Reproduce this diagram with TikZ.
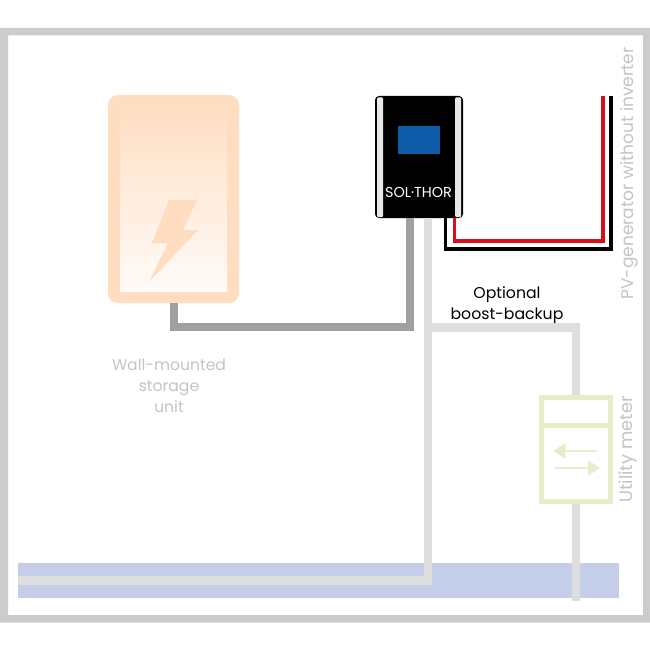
\documentclass[tikz,border=0pt]{standalone}
\usepackage{fontspec}
\setmainfont{Poppins}
\usetikzlibrary{arrows.meta}
\definecolor{framegray}{HTML}{CCCCCC}
\definecolor{bandblue}{HTML}{C5CEE8}
\definecolor{lightwire}{HTML}{DEDEDE}
\definecolor{darkwire}{HTML}{A0A0A0}
\definecolor{peach}{HTML}{FFDDC0}
\definecolor{peachmid}{HTML}{FFEEDF}
\definecolor{peachlow}{HTML}{FFFBF8}
\definecolor{metergreen}{HTML}{E5EEC9}
\definecolor{screenblue}{HTML}{0F5CA8}
\definecolor{strip}{HTML}{E8E8E8}
\definecolor{wirered}{HTML}{D8101C}
\definecolor{labelgray}{HTML}{C4C4C4}
\tikzset{
  box/.style={inner sep=0pt,outer sep=0pt,anchor=north west},
  wire/.style={line join=miter,line cap=butt},
  lightline/.style={wire,draw=lightwire,line width=8.5pt},
  darkline/.style={wire,draw=darkwire,line width=8pt},
  pvred/.style={wire,draw=wirered,line width=3.6pt},
  pvblack/.style={wire,draw=black,line width=3.6pt},
  grayLabel/.style={text=labelgray,font=\fontsize{15.6}{15.6}\selectfont,inner sep=0pt},
  sideLabel/.style={text=labelgray,font=\fontsize{17}{17}\selectfont,inner sep=0pt,rotate=90},
  meterLabel/.style={text=labelgray,font=\fontsize{17.8}{17.8}\selectfont,inner sep=0pt,rotate=90},
  blackLabel/.style={text=black,font=\fontsize{15.7}{15.7}\selectfont,inner sep=0pt},
  meterarrow/.style={draw=metergreen,line width=1.6pt,-{Triangle[length=12pt,width=15pt,fill=metergreen]}},
}
\begin{document}
\begin{tikzpicture}[x=1pt,y=-1pt]
\useasboundingbox (0,0) rectangle (650,650);
\fill[white] (0,0) rectangle (650,650);
% frame
\fill[framegray,even odd rule] (0,28) rectangle (650,622.5) (8,35.5) rectangle (643,615);
% ground band
\fill[bandblue] (18,563) rectangle (619,598);
% main nodes
\node[box,minimum width=131pt,minimum height=208pt,fill=peach,rounded corners=10pt] (storage) at (108,95) {};
\node[box,minimum width=88pt,minimum height=122pt,fill=black,rounded corners=4pt] (device) at (375,96) {};
\node[box,minimum width=74pt,minimum height=109pt] (meter) at (539,395) {};
% coordinates
\coordinate (gridstart) at (18,580.5);
\coordinate (gridcorner) at (428,580.5);
\coordinate (backupcorner) at (576,327.5);
\coordinate (meterend) at (576,601);
\coordinate (darkA) at (174,327);
\coordinate (darkB) at (410,327);
% wires
\draw[darkline] (storage.south -| darkA) -- (darkA) -- (darkB) -- (device.south -| darkB);
\draw[lightline] (gridstart) -- (gridcorner) -- (device.south -| gridcorner);
\draw[lightline] (gridcorner |- backupcorner) -- (backupcorner) -- (meter.north -| backupcorner);
\draw[lightline] (meter.south -| backupcorner) -- (meterend);
\coordinate (pvbt) at (445.5,248.7);
\coordinate (pvbr) at (611,248.7);
\coordinate (pvrt) at (454.5,241);
\coordinate (pvrr) at (602.7,241);
\draw[pvblack] (device.south -| pvbt) -- (pvbt) -- (pvbr) -- (pvbr |- device.north);
\draw[pvred] (device.south -| pvrt) -- (pvrt) -- (pvrr) -- (pvrr |- device.north);
% storage inside
\shade[top color=peach,middle color=peachmid,bottom color=peachlow] (120,100) rectangle (227,291);
\fill[peach] (169,200) -- (197,200) -- (183,230) -- (198,230) -- (149,282) -- (168,243) -- (152,243) -- cycle;
% device inside
\fill[strip,rounded corners=1pt] (377,97.5) rectangle (383,217);
\fill[strip,rounded corners=1pt] (455,97.5) rectangle (461,217);
\fill[screenblue] (398,126) rectangle (440,154);
\node[text=white,inner sep=0pt,font=\fontsize{14.4}{14.4}\selectfont] (brand) at (418.5,192) {SOL·THOR};
% meter
\fill[white] (539,395) rectangle (613,504);
\draw[metergreen,line width=5pt] (541.5,397.5) rectangle (610.5,501.5);
\draw[metergreen,line width=5pt] (541.5,425.5) -- (610.5,425.5);
\coordinate (a1s) at (597,451); \coordinate (a1e) at (553,451);
\coordinate (a2s) at (555,468); \coordinate (a2e) at (600,468);
\draw[meterarrow] (a1s) -- (a1e);
\draw[meterarrow] (a2s) -- (a2e);
% labels
\node[blackLabel,anchor=base] (opt1) at (507,298.5) {Optional};
\node[blackLabel,anchor=base] (opt2) at (507,319) {boost-backup};
\node[grayLabel,anchor=base] (w1) at (169,370.5) {Wall-mounted};
\node[grayLabel,anchor=base] (w2) at (169,391) {storage};
\node[grayLabel,anchor=base] (w3) at (169,412) {unit};
\node[sideLabel,anchor=base] (pv) at (633,173.5) {PV-generator without inverter};
\node[meterLabel,anchor=base] (um) at (632,449.5) {Utility meter};
\end{tikzpicture}
\end{document}
